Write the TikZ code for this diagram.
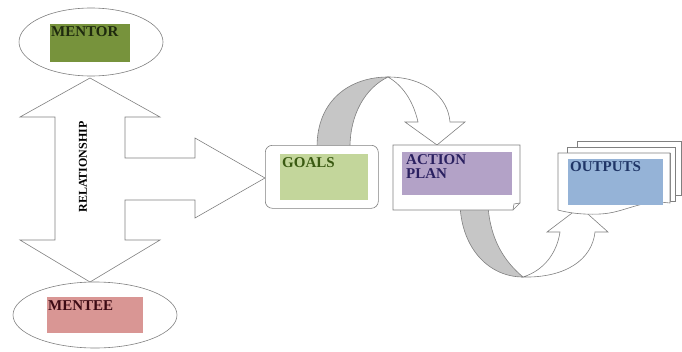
\documentclass[tikz,border=0pt]{standalone}
\usepackage{fontspec}
\setmainfont{Liberation Serif}
\usetikzlibrary{positioning,shapes.geometric}
\definecolor{mentorgreen}{HTML}{77933C}
\definecolor{menteepink}{HTML}{D99694}
\definecolor{goalsgreen}{HTML}{C3D69B}
\definecolor{planpurple}{HTML}{B3A2C7}
\definecolor{outblue}{HTML}{95B3D7}
\definecolor{edgegray}{HTML}{808080}
\definecolor{bandgray}{HTML}{C6C6C6}
\definecolor{mentorink}{HTML}{1E2A0E}
\definecolor{menteeink}{HTML}{3D0A14}
\definecolor{goalsink}{HTML}{3A5A12}
\definecolor{planink}{HTML}{2A2060}
\definecolor{outink}{HTML}{1F3566}

\begin{document}
\begin{tikzpicture}[x=1pt,y=-1pt,
  line/.style={draw=edgegray,line width=0.6pt},
  ring/.style={line,ellipse,fill=white,inner sep=0pt},
  tag/.style={draw=none,inner sep=0pt,anchor=north west},
  txt/.style={anchor=north west,inner sep=0pt,align=left,
    font=\bfseries\fontsize{15}{14.5}\selectfont},
  band/.style={line,fill=bandgray},
  sheet/.style={line,fill=white}
]
\useasboundingbox (0,0) rectangle (682,351);

\draw[sheet] (90,78) -- (160,117) -- (125,117) -- (125,158) -- (195,158) -- (195,138)
  -- (265,178) -- (195,218) -- (195,200) -- (125,200) -- (125,240) -- (160,240)
  -- (90,282) -- (20,240) -- (55,240) -- (55,117) -- (20,117) -- cycle;
\node[rotate=90,font=\bfseries\fontsize{12}{12}\selectfont] (rel) at (83,167) {RELATIONSHIP};

\node[ring,minimum width=144pt,minimum height=68pt] (mentorring) at (91,42) {};
\node[tag,fill=mentorgreen,minimum width=80pt,minimum height=38pt] (mentor) at (50,24) {};
\node[txt,text=mentorink] (mentorlbl) at (51,26) {MENTOR};

\node[ring,minimum width=164pt,minimum height=66pt] (menteering) at (95,315) {};
\node[tag,fill=menteepink,minimum width=96pt,minimum height=36pt] (mentee) at (47,297) {};
\node[txt,text=menteeink] (menteelbl) at (48,300) {MENTEE};

\draw[band] (317,147) .. controls (317,100) and (350,77) .. (388,77)
  .. controls (365,88) and (350,115) .. (350,147) -- cycle;
\draw[sheet] (388,77) .. controls (425,77) and (448,97) .. (450,122) -- (465,122)
  -- (437,145) -- (405,122) -- (418,122) .. controls (413,100) and (402,85) .. (388,77) -- cycle;

\draw[band] (460,205) .. controls (462,250) and (490,277) .. (523,277)
  .. controls (505,262) and (490,240) .. (488,205) -- cycle;
\draw[sheet] (523,277) .. controls (565,278) and (592,260) .. (595,232) -- (608,232)
  -- (580,207) -- (547,232) -- (560,232) .. controls (557,252) and (545,270) .. (523,277) -- cycle;

\node[line,fill=white,rounded corners=7pt,anchor=north west,minimum width=113pt,minimum height=63pt] (goalsbox) at (265,145) {};
\node[tag,fill=goalsgreen,minimum width=88pt,minimum height=46pt] (goals) at (280,154) {};
\node[txt,text=goalsink] (goalslbl) at (282,157) {GOALS};

\draw[sheet] (393,145) -- (520,145) -- (520,203) -- (513,210) -- (393,210) -- cycle;
\draw[line] (520,203) -- (514,204) -- (513,210);
\node[tag,fill=planpurple,minimum width=110pt,minimum height=43pt] (plan) at (402,152) {};
\node[txt,text=planink] (planlbl) at (406,154) {ACTION\\PLAN};

\draw[sheet] (577,141) -- (681,141) -- (681,195) -- (675,195) -- (675,147) -- (577,147) -- cycle;
\draw[sheet] (567,147) -- (675,147) -- (675,201) -- (670,201) -- (670,153) -- (567,153) -- cycle;
\draw[sheet] (558,153) -- (670,153) -- (670,203) .. controls (640,199) and (625,213) .. (600,214)
  .. controls (580,215) and (565,212) .. (558,210) -- cycle;
\node[tag,fill=outblue,minimum width=95pt,minimum height=46pt] (outputs) at (568,159) {};
\node[txt,text=outink] (outputslbl) at (570,161) {OUTPUTS};
\end{tikzpicture}
\end{document}
